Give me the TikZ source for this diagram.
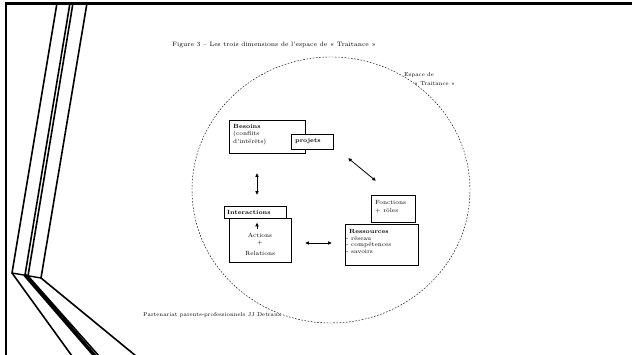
\documentclass[tikz,border=0pt]{standalone}
\usepackage{fontspec}
\usetikzlibrary{arrows.meta,shapes.geometric}
\tikzset{
  box/.style={draw, line width=0.8pt, fill=white, inner sep=0pt, anchor=north west},
  txt/.style={inner sep=0pt, anchor=west, font=\fontsize{6}{7}\selectfont},
  small/.style={inner sep=0pt, anchor=west, font=\fontsize{5.6}{6.5}\selectfont},
  dbl/.style={{Latex[length=3.8pt,width=3.8pt]}-{Latex[length=3.8pt,width=3.8pt]}, line width=0.8pt},
  deco/.style={line width=1.6pt},
  frame/.style={line width=2.2pt}
}
\begin{document}
\begin{tikzpicture}[x=1pt,y=-1pt]
\useasboundingbox (0,0) rectangle (632,355);
% frame
\coordinate (f1) at (5,3.5); \coordinate (f2) at (632,3.5); \coordinate (f3) at (6,355);
\draw[frame] (f2) -- (f1);
\draw[line width=2pt] (6,2.5) -- (f3);
% decorative lines
\coordinate (A1) at (57,3); \coordinate (A2) at (70,3); \coordinate (A3) at (73,3); \coordinate (A4) at (87,3);
\coordinate (B1) at (12,273); \coordinate (B2) at (25,275); \coordinate (B3) at (28,276); \coordinate (B4) at (41,278);
\coordinate (C1) at (72,356); \coordinate (C2) at (95,356); \coordinate (C3) at (99,356); \coordinate (C4) at (136,356);
\draw[deco] (A1) -- (B1) -- (C1);
\draw[deco] (A2) -- (B2) -- (C2);
\draw[deco] (A3) -- (B3) -- (C3);
\draw[line width=3.5pt] (B2) -- (C2);
\draw[deco] (A4) -- (B4) -- (C4);
\draw[line width=1.4pt] (B1) -- (B4);
% title
\node[small, font=\fontsize{6.3}{7}\selectfont] (title) at (172,45) {Figure 3 – Les trois dimensions de l’espace de « Traitance »};
% space
\node[draw, dashed, dash pattern=on 1.6pt off 1.6pt, line width=0.45pt, ellipse, minimum width=278, minimum height=266, inner sep=0pt] (espace) at (331,190) {};
\node[small] (esp1) at (404,75) {Espace de};
\node[small] (esp2) at (414,84) {« Traitance »};
% Besoins
\node[box, minimum width=76, minimum height=33] (besoins) at (229,120) {};
\node[txt, font=\fontsize{6}{7}\selectfont\bfseries] (bes1) at (233,126) {Besoins};
\node[txt] (bes2) at (233,134) {(conflits};
\node[txt] (bes3) at (233,142) {d’intérêts)};
\node[box, minimum width=42, minimum height=15] (projets) at (291,134) {};
\node[txt, font=\fontsize{6}{7}\selectfont\bfseries] (projt) at (295,141.5) {projets};
% Fonctions
\node[box, minimum width=44, minimum height=27] (fonctions) at (371,195) {};
\node[txt] (fon1) at (375,202) {Fonctions};
\node[txt] (fon2) at (375,211) {+ rôles};
% Ressources
\node[box, minimum width=73, minimum height=41] (ressources) at (345,224) {};
\node[txt, font=\fontsize{6}{7}\selectfont\bfseries] (res1) at (349,231) {Ressources};
\node[txt, font=\fontsize{6}{7}\selectfont\addfontfeatures{LetterSpace=20}] (res2) at (346,238) {- réseau};
\node[txt, font=\fontsize{6}{7}\selectfont\addfontfeatures{LetterSpace=6}] (res3) at (346,245) {- compétences};
\node[txt, font=\fontsize{6}{7}\selectfont\addfontfeatures{LetterSpace=20}] (res4) at (346,252) {- savoirs};
% Actions
\node[box, minimum width=62, minimum height=44] (actions) at (229,218) {};
\node[box, minimum width=62, minimum height=12] (interactions) at (224,206) {};
\node[txt, font=\fontsize{6}{7}\selectfont\bfseries] (intt) at (227,212) {Interactions};
\node[txt, anchor=center] (act1) at (260,235) {Actions};
\node[txt, anchor=center] (act2) at (260,243) {+};
\node[txt, anchor=center] (act3) at (260,253) {Relations};
\coordinate (u1) at (257,229); \coordinate (u2) at (257,222.5);
\draw[-{Latex[length=3.8pt,width=3.8pt]}, line width=0.7pt] (u1) -- (u2);
% arrows
\coordinate (v1) at (257,173); \coordinate (v2) at (257,195);
\draw[dbl] (v1) -- (v2);
\coordinate (d1) at (348,158); \coordinate (d2) at (376,181);
\draw[dbl] (d1) -- (d2);
\coordinate (h1) at (305,243); \coordinate (h2) at (332,243);
\draw[dbl] (h1) -- (h2);
% footer
\node[small] (foot) at (143,315) {Partenariat parents-professionnels JJ Detraux};
\end{tikzpicture}
\end{document}
